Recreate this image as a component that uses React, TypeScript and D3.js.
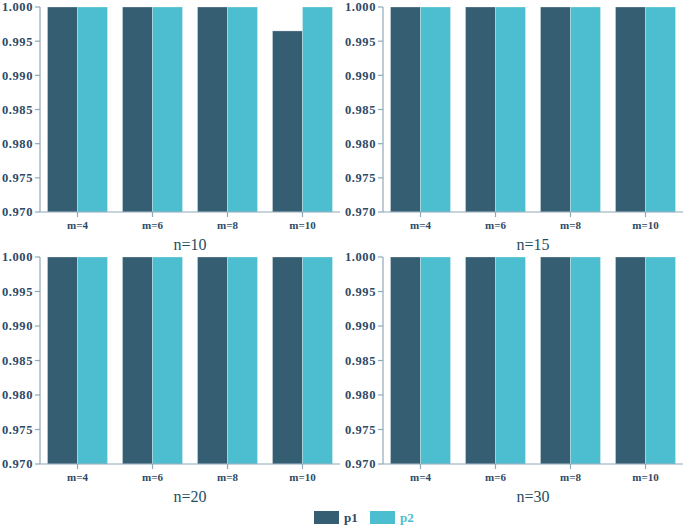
import React from "react";
import * as d3 from "d3";

const groups = ["m=4", "m=6", "m=8", "m=10"];
const series = ["p1", "p2"];
const panelTitles = ["n=10", "n=15", "n=20", "n=30"];
// values per panel, one array per series, indexed by group
const n10p1 = [1.0, 1.0, 1.0, 0.9965];
const n10p2 = [1.0, 1.0, 1.0, 1.0];
const n15p1 = [1.0, 1.0, 1.0, 1.0];
const n15p2 = [1.0, 1.0, 1.0, 1.0];
const n20p1 = [1.0, 1.0, 1.0, 1.0];
const n20p2 = [1.0, 1.0, 1.0, 1.0];
const n30p1 = [1.0, 1.0, 1.0, 1.0];
const n30p2 = [1.0, 1.0, 1.0, 1.0];
const yTicks = [0.97, 0.975, 0.98, 0.985, 0.99, 0.995, 1.0];

const panelData = [
  [n10p1, n10p2],
  [n15p1, n15p2],
  [n20p1, n20p2],
  [n30p1, n30p2],
];

const colors = ["#365e73", "#4cbecf"];
const axisColor = "#8fa8b8";
const textColor = "#2e4a66";
const font = "'Liberation Serif', serif";

const panelLeft = [40, 383];
const panelTop = [7, 257];
const panelBottom = [212, 464];
const panelW = 300;

function Panel({ idx }: { idx: number }) {
  const x0 = panelLeft[idx % 2];
  const y0 = panelTop[Math.floor(idx / 2)];
  const yb = panelBottom[Math.floor(idx / 2)];
  const x = d3.scaleBand(groups, [x0, x0 + panelW]).paddingInner(0.2).paddingOuter(0.1);
  const xs = d3.scaleBand(series, [0, x.bandwidth()]);
  const y = d3.scaleLinear([0.97, 1.0], [yb, y0]);
  const fmt = d3.format(".3f");
  const vals = panelData[idx];
  return (
    <g>
      {groups.map((g, gi) =>
        series.map((s, si) => (
          <rect
            key={g + s}
            x={(x(g) as number) + (xs(s) as number)}
            y={y(vals[si][gi])}
            width={xs.bandwidth()}
            height={y(0.97) - y(vals[si][gi])}
            fill={colors[si]}
            stroke="#ffffff"
            strokeOpacity={0.35}
            strokeWidth={0.8}
          />
        ))
      )}
      <line x1={x0} x2={x0} y1={y0} y2={yb} stroke={axisColor} strokeWidth={1.2} />
      <line x1={x0} x2={x0 + panelW} y1={yb} y2={yb} stroke={axisColor} strokeWidth={1.2} />
      {yTicks.map((t) => (
        <g key={t}>
          <line x1={x0 - 5} x2={x0} y1={y(t)} y2={y(t)} stroke={axisColor} strokeWidth={1.2} />
          <text x={x0 - 7} y={y(t)} dy="0.35em" textAnchor="end" fontSize={12.5} fontWeight="bold" fill={textColor} fontFamily={font} letterSpacing={0.6}>
            {fmt(t)}
          </text>
        </g>
      ))}
      {groups.map((g) => {
        const cx = (x(g) as number) + x.bandwidth() / 2;
        return (
          <g key={g}>
            <line x1={cx} x2={cx} y1={yb} y2={yb + 5} stroke={axisColor} strokeWidth={1.2} />
            <text x={cx} y={yb + 17} textAnchor="middle" fontSize={11} fontWeight="bold" fill={textColor} fontFamily={font}>
              {g}
            </text>
          </g>
        );
      })}
      <text x={x0 + panelW / 2} y={yb + 38} textAnchor="middle" fontSize={16} fill="#1f4e5f" fontFamily={font}>
        {panelTitles[idx]}
      </text>
    </g>
  );
}

export default function App() {
  return (
    <svg width={685} height={526} style={{ position: "absolute", left: 0, top: 0 }}>
      <rect width={685} height={526} fill="#ffffff" />
      {[0, 1, 2, 3].map((i) => (
        <Panel key={i} idx={i} />
      ))}
      <g>
        <rect x={314} y={511} width={25} height={13} fill={colors[0]} />
        <text x={344} y={522} fontSize={13} fontWeight="bold" fill={textColor} fontFamily={font}>p1</text>
        <rect x={370} y={511} width={25} height={13} fill={colors[1]} />
        <text x={400} y={522} fontSize={13} fontWeight="bold" fill={colors[1]} fontFamily={font}>p2</text>
      </g>
    </svg>
  );
}
